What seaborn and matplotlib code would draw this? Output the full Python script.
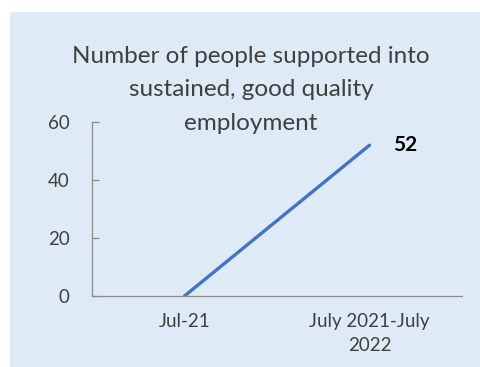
import matplotlib
matplotlib.use("Agg")
import matplotlib.pyplot as plt
import seaborn as sns
import pandas as pd
from matplotlib.patches import Rectangle

periods = ["Jul-21", "July 2021-July\n2022"]
people = [0, 52]
yticks = [0, 20, 40, 60]

sns.set_theme(style="white")
plt.rcParams["font.family"] = ["Lato", "DejaVu Sans"]

bg = "#DEEAF6"
txt = "#404040"
spine = "#8C8C8C"

fig = plt.figure(figsize=(4.8, 3.67), dpi=100)
fig.patch.set_facecolor("white")
fig.patches.append(Rectangle((10 / 480, 0), 1, 1 - 12 / 367,
                             transform=fig.transFigure, facecolor=bg,
                             edgecolor="none", zorder=-10))

ax = fig.add_axes([92 / 480, 1 - 296 / 367, 370 / 480, 174 / 367])
ax.set_facecolor("none")
ax.set_zorder(5)

df = pd.DataFrame({"period": periods, "people": people})
sns.lineplot(data=df, x="period", y="people", ax=ax, color="#4472C4",
             linewidth=2.4, sort=False)

ax.set_xlim(-0.5, 1.5)
ax.set_ylim(0, 60)
ax.set_yticks(yticks)
ax.set_xlabel("")
ax.set_ylabel("")

for s in ["top", "right"]:
    ax.spines[s].set_visible(False)
for s in ["left", "bottom"]:
    ax.spines[s].set_color(spine)
    ax.spines[s].set_linewidth(0.9)

ax.tick_params(axis="y", left=True, direction="in", length=5, color=spine,
               width=0.9, labelsize=13.5, labelcolor=txt, pad=16)
ax.tick_params(axis="x", bottom=False, length=0, labelsize=13.5,
               labelcolor=txt, pad=12)
for t in ax.get_xticklabels():
    t.set_linespacing(1.55)

ax.annotate(f"{people[1]}", xy=(1, people[1]), xytext=(17, 0),
            textcoords="offset points", ha="left", va="center",
            fontsize=15, fontweight="bold", color="black")

fig.text(251 / 480, 1 - 90 / 367,
         "Number of people supported into\nsustained, good quality\nemployment",
         ha="center", va="center", fontsize=17.5, color=txt, linespacing=1.72,
         zorder=10)

fig.savefig("out.png", dpi=100)
